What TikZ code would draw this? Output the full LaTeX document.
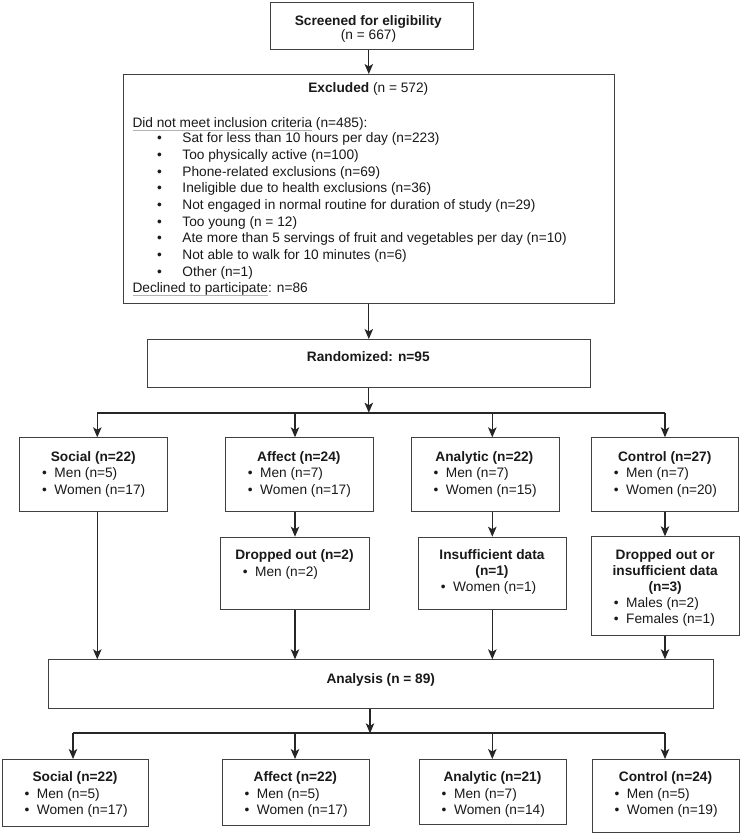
\documentclass[tikz,border=0pt]{standalone}
\usepackage{fontspec}
\setmainfont{Liberation Sans}
\usetikzlibrary{arrows.meta}
\newcommand\bl{\makebox[12.4pt][l]{\textbullet}}
\newcommand\blx{\makebox[25.4pt][l]{\textbullet}}
\newcommand\ulg[1]{\setbox0=\hbox{#1}\rlap{\textcolor{black!30}{\rule[-2.6pt]{\wd0}{0.9pt}}}\box0\relax}
\begin{document}
\begin{tikzpicture}[x=1pt,y=-1pt,
  box/.style={draw=black!75, line width=0.9pt, anchor=north west, inner sep=0pt, fill=white},
  txt/.style={inner sep=0pt, font=\fontsize{13.7}{16}\selectfont, text=black!90},
  arr/.style={draw=black!85, line width=1.2pt, -{Stealth[length=10pt,width=8.5pt,inset=2.5pt]}},
  bar/.style={draw=black!85, line width=2pt}]
\useasboundingbox (0,0) rectangle (740,833);
% ---------- boxes ----------
\node[box, minimum width=203.3pt, minimum height=47.6pt] (scr) at (270,1.7) {};
\node[box, minimum width=491.3pt, minimum height=229.3pt] (exc) at (122.7,74) {};
\node[box, minimum width=443.3pt, minimum height=48.3pt] (ran) at (146.7,339) {};
\node[box, minimum width=148pt, minimum height=73.7pt] (s1) at (19.3,437.3) {};
\node[box, minimum width=147.7pt, minimum height=73.7pt] (a1) at (225,437.3) {};
\node[box, minimum width=148.3pt, minimum height=73.7pt] (n1) at (410.7,437.3) {};
\node[box, minimum width=147.3pt, minimum height=73.7pt] (c1) at (591,437.3) {};
\node[box, minimum width=149pt, minimum height=72.6pt] (a2) at (220,536.7) {};
\node[box, minimum width=148pt, minimum height=72.6pt] (n2) at (418,536.7) {};
\node[box, minimum width=148.3pt, minimum height=98.7pt] (c2) at (591,536.3) {};
\node[box, minimum width=665pt, minimum height=49pt] (ana) at (48.3,659.3) {};
\node[box, minimum width=146.6pt, minimum height=66.7pt] (s3) at (1.7,759) {};
\node[box, minimum width=147.2pt, minimum height=66pt] (a3) at (221.7,759) {};
\node[box, minimum width=147.1pt, minimum height=65pt] (n3) at (418.9,759) {};
\node[box, minimum width=147.6pt, minimum height=73.3pt] (c3) at (591.7,759) {};
% ---------- texts ----------
\node[txt, anchor=base] (scr1) at (368.3,25.2) {\bfseries Screened for eligibility};
\node[txt, anchor=base] (scr2) at (368.5,39.2) {(n = 667)};
\node[txt, anchor=base] (exc0) at (368.3,92.8) {\textbf{Excluded} (n = 572)};
\node[txt, anchor=base west] (exc1) at (132.3,127.8) {\ulg{Did not meet inclusion criteria} (n=485):};
\node[txt, anchor=base west] (exi1) at (156.9,142.8) {\blx Sat for less than 10 hours per day (n=223)};
\node[txt, anchor=base west] (exi2) at (156.9,159.5) {\blx Too physically active (n=100)};
\node[txt, anchor=base west] (exi3) at (156.9,176.2) {\blx Phone-related exclusions (n=69)};
\node[txt, anchor=base west] (exi4) at (156.9,192.8) {\blx Ineligible due to health exclusions (n=36)};
\node[txt, anchor=base west] (exi5) at (156.9,209.5) {\blx Not engaged in normal routine for duration of study (n=29)};
\node[txt, anchor=base west] (exi6) at (156.9,226.2) {\blx Too young (n = 12)};
\node[txt, anchor=base west] (exi7) at (156.9,242.8) {\blx Ate more than 5 servings of fruit and vegetables per day (n=10)};
\node[txt, anchor=base west] (exi8) at (156.9,259.5) {\blx Not able to walk for 10 minutes (n=6)};
\node[txt, anchor=base west] (exi9) at (156.9,276.2) {\blx Other (n=1)};
\node[txt, anchor=base west] (exc2) at (132.3,292.8) {\ulg{Declined to participate}: n=86};
\node[txt, anchor=base] (ran1) at (368.3,361.5) {\bfseries Randomized: n=95};
% row 1
\node[txt, anchor=base] (s1t) at (93.3,461.2) {\bfseries Social (n=22)};
\node[txt, anchor=base west] (s1m) at (41.9,477.9) {\bl Men (n=5)};
\node[txt, anchor=base west] (s1w) at (41.9,494.5) {\bl Women (n=17)};
\node[txt, anchor=base] (a1t) at (298.8,461.2) {\bfseries Affect (n=24)};
\node[txt, anchor=base west] (a1m) at (247.6,477.9) {\bl Men (n=7)};
\node[txt, anchor=base west] (a1w) at (247.6,494.5) {\bl Women (n=17)};
\node[txt, anchor=base] (n1t) at (484.4,461.2) {\bfseries Analytic (n=22)};
\node[txt, anchor=base west] (n1m) at (433.3,477.9) {\bl Men (n=7)};
\node[txt, anchor=base west] (n1w) at (433.3,494.5) {\bl Women (n=15)};
\node[txt, anchor=base] (c1t) at (664.7,461.2) {\bfseries Control (n=27)};
\node[txt, anchor=base west] (c1m) at (613.6,477.9) {\bl Men (n=7)};
\node[txt, anchor=base west] (c1w) at (613.6,494.5) {\bl Women (n=20)};
% row 2
\node[txt, anchor=base] (a2t) at (294.5,559.5) {\bfseries Dropped out (n=2)};
\node[txt, anchor=base west] (a2m) at (242.6,576.2) {\bl Men (n=2)};
\node[txt, anchor=base] (n2t) at (492,559.5) {\bfseries Insufficient data};
\node[txt, anchor=base] (n2u) at (492,575.7) {\bfseries (n=1)};
\node[txt, anchor=base west] (n2w) at (440.6,591.9) {\bl Women (n=1)};
\node[txt, anchor=base] (c2t) at (665.2,559.5) {\bfseries Dropped out or};
\node[txt, anchor=base] (c2u) at (665.2,575.5) {\bfseries insufficient data};
\node[txt, anchor=base] (c2v) at (665.2,591.5) {\bfseries (n=3)};
\node[txt, anchor=base west] (c2m) at (613.6,607.4) {\bl Males (n=2)};
\node[txt, anchor=base west] (c2f) at (613.6,623.8) {\bl Females (n=1)};
% analysis
\node[txt, anchor=base] (ana1) at (380.8,683.5) {\bfseries Analysis (n = 89)};
% row 3
\node[txt, anchor=base] (s3t) at (75,781.8) {\bfseries Social (n=22)};
\node[txt, anchor=base west] (s3m) at (24.3,798.5) {\bl Men (n=5)};
\node[txt, anchor=base west] (s3w) at (24.3,814.5) {\bl Women (n=17)};
\node[txt, anchor=base] (a3t) at (295.3,781.8) {\bfseries Affect (n=22)};
\node[txt, anchor=base west] (a3m) at (244.3,798.5) {\bl Men (n=5)};
\node[txt, anchor=base west] (a3w) at (244.3,814.5) {\bl Women (n=17)};
\node[txt, anchor=base] (n3t) at (492.5,781.8) {\bfseries Analytic (n=21)};
\node[txt, anchor=base west] (n3m) at (441.5,798.5) {\bl Men (n=7)};
\node[txt, anchor=base west] (n3w) at (441.5,814.5) {\bl Women (n=14)};
\node[txt, anchor=base] (c3t) at (665.5,781.8) {\bfseries Control (n=24)};
\node[txt, anchor=base west] (c3m) at (614.3,798.5) {\bl Men (n=5)};
\node[txt, anchor=base west] (c3w) at (614.3,814.5) {\bl Women (n=19)};
% ---------- connectors ----------
\coordinate (k1) at (97.3,412.7);
\coordinate (k2) at (295,412.7);
\coordinate (k3) at (492.3,412.7);
\coordinate (k4) at (665,412.7);
\coordinate (m0) at (370,733.3);
\coordinate (m1) at (73,733.3);
\coordinate (m2) at (295,733.3);
\coordinate (m3) at (492.3,733.3);
\coordinate (m4) at (665,733.3);
\draw[arr] (exc.north |- scr.south) -- (exc.north);
\draw[arr] (exc.south) -- (ran.north);
\draw[arr] (ran.south) -- (ran.south |- k1);
\draw[arr] (k1) -- (k1 |- s1.north);
\draw[arr] (k2) -- (k2 |- a1.north);
\draw[arr] (k3) -- (k3 |- n1.north);
\draw[arr] (k4) -- (k4 |- c1.north);
\draw[bar] (k1) -- (k4);
\draw[arr] (s1.south -| k1) -- (ana.north -| k1);
\draw[arr] (a1.south -| k2) -- (a2.north -| k2);
\draw[arr] (a2.south -| k2) -- (ana.north -| k2);
\draw[arr] (n1.south -| k3) -- (n2.north -| k3);
\draw[arr] (n2.south -| k3) -- (ana.north -| k3);
\draw[arr] (c1.south -| k4) -- (c2.north -| k4);
\draw[arr] (c2.south -| k4) -- (ana.north -| k4);
\draw[arr] (ana.south -| m0) -- (m0);
\draw[arr] (m1) -- (m1 |- s3.north);
\draw[arr] (m2) -- (m2 |- a3.north);
\draw[arr] (m3) -- (m3 |- n3.north);
\draw[arr] (m4) -- (m4 |- c3.north);
\draw[bar] (m1) -- (m4);
\end{tikzpicture}
\end{document}
